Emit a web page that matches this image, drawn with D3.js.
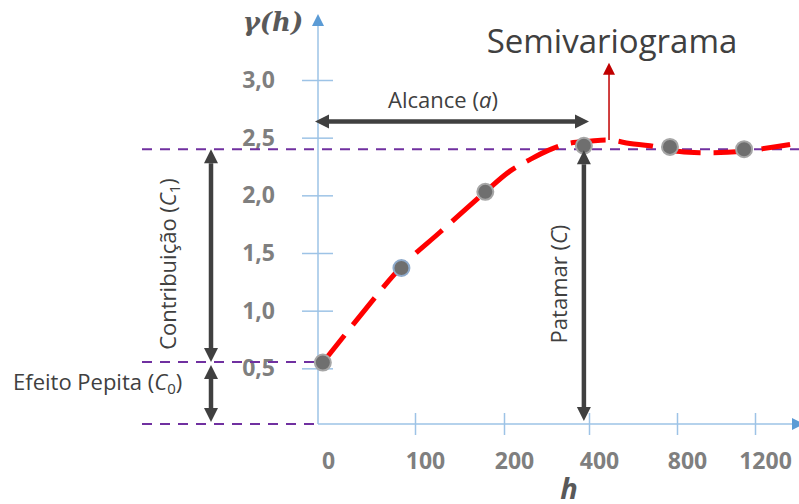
<!DOCTYPE html>
<html>
<head>
<meta charset="utf-8">
<script src="https://cdn.jsdelivr.net/npm/d3@7"></script>
<style>
    body { margin: 0; background: #fff; }
</style>
</head>
<body>
<div id="chart"></div>
<script>

// ---- data ----
const xTicks = [0, 100, 200, 400, 800, 1200];
const yTicks = [0.5, 1.0, 1.5, 2.0, 2.5, 3.0];

// experimental semivariogram (grey dots)
const sampleLag = [5, 86, 179, 388, 768, 1144];
const sampleGamma = [0.55, 1.37, 2.03, 2.43, 2.42, 2.40];

// fitted model (red dashed)
const modelLag = [5, 43, 86, 128, 179, 214, 261, 304, 351, 402, 491, 586, 677, 815, 918, 1123, 1380];
const modelGamma = [0.55, 0.95, 1.38, 1.68, 2.03, 2.21, 2.31, 2.39, 2.45, 2.47, 2.48, 2.45, 2.43, 2.38, 2.37, 2.38, 2.44];

// model parameters
const nugget = 0.555;
const sill = 2.40;
const range = 400;


class Semivariogram {

    constructor(parentElement) {
        this.parentElement = parentElement;
        this.initVis();
    }

    initVis() {
        let vis = this;

        vis.width = 799;
        vis.height = 504;

        vis.svg = d3.select("#" + vis.parentElement).append("svg")
            .attr("width", vis.width)
            .attr("height", vis.height)
            .style("font-family", "'Open Sans', sans-serif");

        // lag axis is not linear in the picture, so a piecewise scale
        vis.x = d3.scaleLinear()
            .domain(xTicks)
            .range([318, 415, 504, 589, 677, 755]);

        vis.y = d3.scaleLinear()
            .domain([0, 3])
            .range([426, 80]);

        vis.comma = d3.formatLocale({decimal: ",", thousands: ".", grouping: [3], currency: ["", ""]}).format(".1f");

        vis.drawAxes();
        vis.drawLevels();
        vis.drawModel();
        vis.drawAnnotations();
    }

    drawAxes() {
        let vis = this;
        const axisCol = "#9dc3e6";
        const x0 = vis.x(0), yBase = 424;

        // y axis with ticks crossing the line
        let yAxis = vis.svg.append("g")
            .attr("transform", `translate(${x0 + 15}, 0)`)
            .call(d3.axisLeft(vis.y).tickValues(yTicks).tickSize(31).tickPadding(27).tickFormat(vis.comma));
        yAxis.select(".domain").remove();
        yAxis.selectAll("line").attr("stroke", axisCol).attr("stroke-width", 1.5);
        yAxis.selectAll("text")
            .attr("fill", "#7f7f7f")
            .attr("font-size", "23px")
            .attr("font-weight", "bold")
            .attr("font-family", "'Open Sans', sans-serif");

        // x axis
        let xAxis = vis.svg.append("g")
            .attr("transform", `translate(0, ${yBase - 11})`)
            .call(d3.axisBottom(vis.x).tickValues(xTicks).tickSize(22).tickPadding(18).tickFormat(d3.format("d")));
        xAxis.select(".domain").remove();
        xAxis.selectAll("line").attr("stroke", axisCol).attr("stroke-width", 1.5)
            .attr("opacity", d => d === 0 ? 0 : 1);
        xAxis.selectAll("text")
            .attr("dx", 10)
            .attr("fill", "#7f7f7f")
            .attr("font-size", "23px")
            .attr("font-weight", "bold")
            .attr("font-family", "'Open Sans', sans-serif");

        // axis lines
        vis.svg.append("line")
            .attr("x1", x0).attr("x2", x0)
            .attr("y1", yBase).attr("y2", 26)
            .attr("stroke", axisCol).attr("stroke-width", 1.5);
        vis.svg.append("path")
            .attr("d", `M${x0 - 6},26 L${x0},14 L${x0 + 6},26 Z`)
            .attr("fill", "#5b9bd5");

        vis.svg.append("line")
            .attr("x1", x0).attr("x2", 792)
            .attr("y1", yBase).attr("y2", yBase)
            .attr("stroke", axisCol).attr("stroke-width", 1.5);
        vis.svg.append("path")
            .attr("d", `M792,${yBase - 6} L804,${yBase} L792,${yBase + 6} Z`)
            .attr("fill", "#5b9bd5");

        // axis titles
        vis.svg.append("text")
            .attr("x", 273).attr("y", 31)
            .attr("text-anchor", "middle")
            .style("font-family", "'DejaVu Serif', serif")
            .attr("font-style", "italic")
            .attr("font-weight", "bold")
            .attr("font-size", "26px")
            .attr("fill", "#595959")
            .text("γ(h)");

        vis.svg.append("text")
            .attr("x", 569).attr("y", 499)
            .attr("text-anchor", "middle")
            .attr("font-style", "italic")
            .attr("font-weight", "bold")
            .attr("font-size", "29px")
            .attr("fill", "#595959")
            .text("h");
    }

    drawLevels() {
        let vis = this;
        const purple = "#7030a0";

        let levels = [
            {x1: 142, x2: 799, v: sill},
            {x1: 142, x2: vis.x(0), v: nugget},
            {x1: 142, x2: vis.x(0), v: 0}
        ];

        vis.svg.selectAll(".level")
            .data(levels)
            .enter().append("line")
            .attr("class", "level")
            .attr("x1", d => d.x1)
            .attr("x2", d => d.x2)
            .attr("y1", d => d.v === 0 ? 424 : vis.y(d.v))
            .attr("y2", d => d.v === 0 ? 424 : vis.y(d.v))
            .attr("stroke", purple)
            .attr("stroke-width", 2)
            .attr("stroke-dasharray", "10,8");
    }

    drawModel() {
        let vis = this;

        let model = modelLag.map((h, i) => ({h: h, g: modelGamma[i]}));
        let samples = sampleLag.map((h, i) => ({h: h, g: sampleGamma[i]}));

        let line = d3.line()
            .x(d => vis.x(d.h))
            .y(d => vis.y(d.g))
            .curve(d3.curveCatmullRom);

        vis.svg.append("path")
            .datum(model)
            .attr("d", line)
            .attr("fill", "none")
            .attr("stroke", "#ff0000")
            .attr("stroke-width", 5)
            .attr("stroke-dasharray", "35,13");

        vis.svg.selectAll(".dot")
            .data(samples)
            .enter().append("circle")
            .attr("class", "dot")
            .attr("cx", d => vis.x(d.h))
            .attr("cy", d => vis.y(d.g))
            .attr("r", 8)
            .attr("fill", "#6f6f6f")
            .attr("stroke", (d, i) => i === 1 ? "#8eaacb" : "#a6a6a6")
            .attr("stroke-width", 2);
    }

    // thick dark line with a head on both ends
    doubleArrow(x1, y1, x2, y2) {
        let vis = this;
        const col = "#404040", head = 14, half = 7;
        let len = Math.hypot(x2 - x1, y2 - y1);
        let ux = (x2 - x1) / len, uy = (y2 - y1) / len;
        let px = -uy, py = ux;

        vis.svg.append("line")
            .attr("x1", x1 + ux * head).attr("y1", y1 + uy * head)
            .attr("x2", x2 - ux * head).attr("y2", y2 - uy * head)
            .attr("stroke", col).attr("stroke-width", 4.5);

        [[x1, y1, 1], [x2, y2, -1]].forEach(([tx, ty, s]) => {
            let bx = tx + s * ux * head, by = ty + s * uy * head;
            vis.svg.append("path")
                .attr("d", `M${tx},${ty} L${bx + px * half},${by + py * half} L${bx - px * half},${by - py * half} Z`)
                .attr("fill", col);
        });
    }

    drawAnnotations() {
        let vis = this;
        const textCol = "#404040";
        const armX = 211;
        const fs = "22px", sub = "15px";

        // Alcance
        vis.doubleArrow(vis.x(0) - 3, vis.y(2.64), vis.x(range), vis.y(2.64));
        let alc = vis.svg.append("text")
            .attr("x", 443).attr("y", 108)
            .attr("text-anchor", "middle")
            .attr("font-size", fs)
            .attr("fill", textCol);
        alc.append("tspan").text("Alcance (");
        alc.append("tspan").attr("font-style", "italic").text("a");
        alc.append("tspan").text(")");

        // Patamar
        vis.doubleArrow(vis.x(sampleLag[3]), vis.y(sill) + 1, vis.x(sampleLag[3]), 421);
        let pat = vis.svg.append("text")
            .attr("transform", "translate(567, 284) rotate(-90)")
            .attr("text-anchor", "middle")
            .attr("font-size", fs)
            .attr("fill", textCol);
        pat.append("tspan").text("Patamar (");
        pat.append("tspan").attr("font-style", "italic").text("C");
        pat.append("tspan").text(")");

        // Contribuição
        vis.doubleArrow(armX, vis.y(sill), armX, vis.y(nugget));
        let con = vis.svg.append("text")
            .attr("transform", "translate(176, 264) rotate(-90)")
            .attr("text-anchor", "middle")
            .attr("font-size", fs)
            .attr("fill", textCol);
        con.append("tspan").text("Contribuição (");
        con.append("tspan").attr("font-style", "italic").text("C");
        con.append("tspan").attr("font-size", sub).attr("dy", 4).text("1");
        con.append("tspan").attr("dy", -4).text(")");

        // Efeito Pepita
        vis.doubleArrow(armX, vis.y(nugget) + 3, armX, 422);
        let pep = vis.svg.append("text")
            .attr("x", 13).attr("y", 390)
            .attr("font-size", fs)
            .attr("fill", textCol);
        pep.append("tspan").text("Efeito Pepita (");
        pep.append("tspan").attr("font-style", "italic").text("C");
        pep.append("tspan").attr("font-size", sub).attr("dy", 4).text("0");
        pep.append("tspan").attr("dy", -4).text(")");

        // Semivariograma pointer
        let px = vis.x(modelLag[10]);
        let pTop = vis.y(3.15);
        vis.svg.append("line")
            .attr("x1", px).attr("x2", px)
            .attr("y1", vis.y(modelGamma[10])).attr("y2", pTop + 11)
            .attr("stroke", "#c00000").attr("stroke-width", 1.5);
        vis.svg.append("path")
            .attr("d", `M${px - 6},${pTop + 12} L${px},${pTop} L${px + 6},${pTop + 12} Z`)
            .attr("fill", "#c00000");

        vis.svg.append("text")
            .attr("x", 612).attr("y", 53)
            .attr("text-anchor", "middle")
            .attr("font-size", "33px")
            .attr("fill", textCol)
            .text("Semivariograma");
    }
}

new Semivariogram("chart");

</script>
</body>
</html>
